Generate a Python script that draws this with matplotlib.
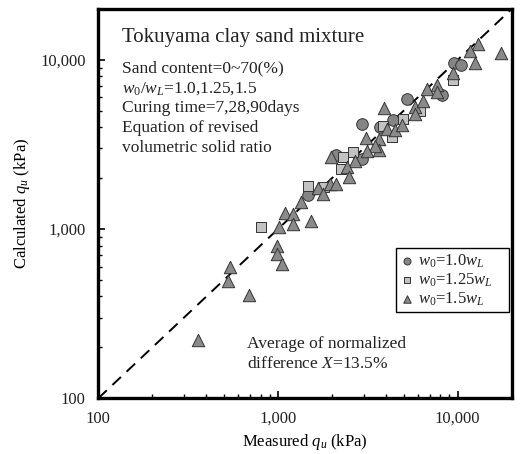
import numpy as np
import matplotlib
matplotlib.use("Agg")
import matplotlib.pyplot as plt
from matplotlib.ticker import FuncFormatter, LogLocator

plt.rcParams["font.family"] = "Liberation Serif"
plt.rcParams["mathtext.fontset"] = "custom"
plt.rcParams["mathtext.rm"] = "Liberation Serif"
plt.rcParams["mathtext.it"] = "Liberation Serif:italic"
plt.rcParams["text.color"] = "#222222"
plt.rcParams["xtick.labelcolor"] = "#222222"
plt.rcParams["ytick.labelcolor"] = "#222222"

# measured / calculated qu (kPa)
meas_10 = [5200, 2920, 3700, 4380, 2100, 2920, 1475, 9530, 10420, 8150]
calc_10 = [5850, 4180, 4030, 4415, 2730, 2585, 1590, 9550, 9330, 6200]

meas_125 = [6170, 4980, 3855, 4310, 2290, 2605, 2232, 1475, 1803, 802, 9450]
calc_125 = [4990, 4495, 4070, 3520, 2660, 2855, 2265, 1800, 1766, 1033, 7610]

meas_15 = [3890, 5785, 6385, 5785, 6775, 7700, 3090, 3663, 3663, 3466,
           4057, 4480, 4880, 3115, 2682, 1965, 2411, 2474, 1676, 1946,
           2103, 1773, 1343, 1098, 1217, 1217, 1527, 1017, 984, 984,
           1053, 541, 525, 690, 360, 17400, 12920, 11710, 12480, 9450, 7640]
calc_15 = [5220, 5290, 5740, 4770, 6700, 7110, 3470, 3395, 2935, 3110,
           3890, 3852, 4125, 2895, 2526, 2680, 2338, 2040, 1742, 1840,
           1840, 1612, 1440, 1240, 1228, 1072, 1121, 1025, 795, 710,
           622, 600, 494, 408, 221, 11030, 12370, 11330, 9550, 8335, 6490]

lim = [100, 20000]

fig = plt.figure(figsize=(5.25, 4.54), dpi=100)
ax = fig.add_axes([0.1872, 0.1227, 0.7874, 0.8575])

# 1:1 line
ax.plot(lim, lim, "k", ls=(0, (6, 4)), lw=1.4, zorder=1)

ax.scatter(meas_10, calc_10, s=70, marker="o", c="#858585", edgecolors="#333333",
           linewidths=0.7, label=r"$w_{\mathit{0}}$=1.0$w_L$", zorder=3)
ax.scatter(meas_125, calc_125, s=62, marker="s", c="#c2c2c2", edgecolors="#333333",
           linewidths=0.7, label=r"$w_{\mathit{0}}$=1.25$w_L$", zorder=3)
ax.scatter(meas_15, calc_15, s=80, marker="^", c="#8a8a8a", edgecolors="#333333",
           linewidths=0.7, label=r"$w_{\mathit{0}}$=1.5$w_L$", zorder=3)

ax.set_xscale("log")
ax.set_yscale("log")
ax.set_xlim(lim)
ax.set_ylim(lim)

fmt = FuncFormatter(lambda v, p: f"{int(round(v)):,}")
for a in (ax.xaxis, ax.yaxis):
    a.set_major_locator(LogLocator(base=10))
    a.set_minor_locator(LogLocator(base=10, subs=np.arange(2, 10)))
    a.set_major_formatter(fmt)
    a.set_minor_formatter(FuncFormatter(lambda v, p: ""))
ax.tick_params(which="major", direction="in", length=5, width=1.2, labelsize=12, pad=9)
ax.tick_params(which="minor", direction="in", length=3, width=1.0)

for s in ax.spines.values():
    s.set_linewidth(2.4)

ax.set_xlabel(r"Measured $q_u$ (kPa)", fontsize=12, labelpad=4)
ax.set_ylabel(r"Calculated $q_u$ (kPa)", fontsize=12, labelpad=6)

ax.text(0.057, 0.928, "Tokuyama clay sand mixture", transform=ax.transAxes,
        fontsize=15, va="center")
lines = ["Sand content=0~70(%)",
         r"$w_{\mathit{0}}/w_L$=1.0,1.25,1.5",
         "Curing time=7,28,90days",
         "Equation of revised",
         "volumetric solid ratio"]
for i, t in enumerate(lines):
    ax.text(0.057, 0.848 - i * 0.0515, t, transform=ax.transAxes,
            fontsize=12.5, va="center")

ax.text(0.36, 0.139, "Average of normalized", transform=ax.transAxes,
        fontsize=12.5, va="center")
ax.text(0.36, 0.088, r"difference $X$=13.5%", transform=ax.transAxes,
        fontsize=12.5, va="center")

leg = ax.legend(loc="lower left", bbox_to_anchor=(0.72, 0.222, 0.273, 0.14),
                mode="expand", fontsize=12, markerscale=0.6, handlelength=0.8,
                handletextpad=0.3, borderpad=0.25, labelspacing=0.1,
                fancybox=False, framealpha=1, borderaxespad=0)
leg.get_frame().set_edgecolor("black")
leg.get_frame().set_linewidth(1.0)

plt.savefig("out.png", dpi=100)
